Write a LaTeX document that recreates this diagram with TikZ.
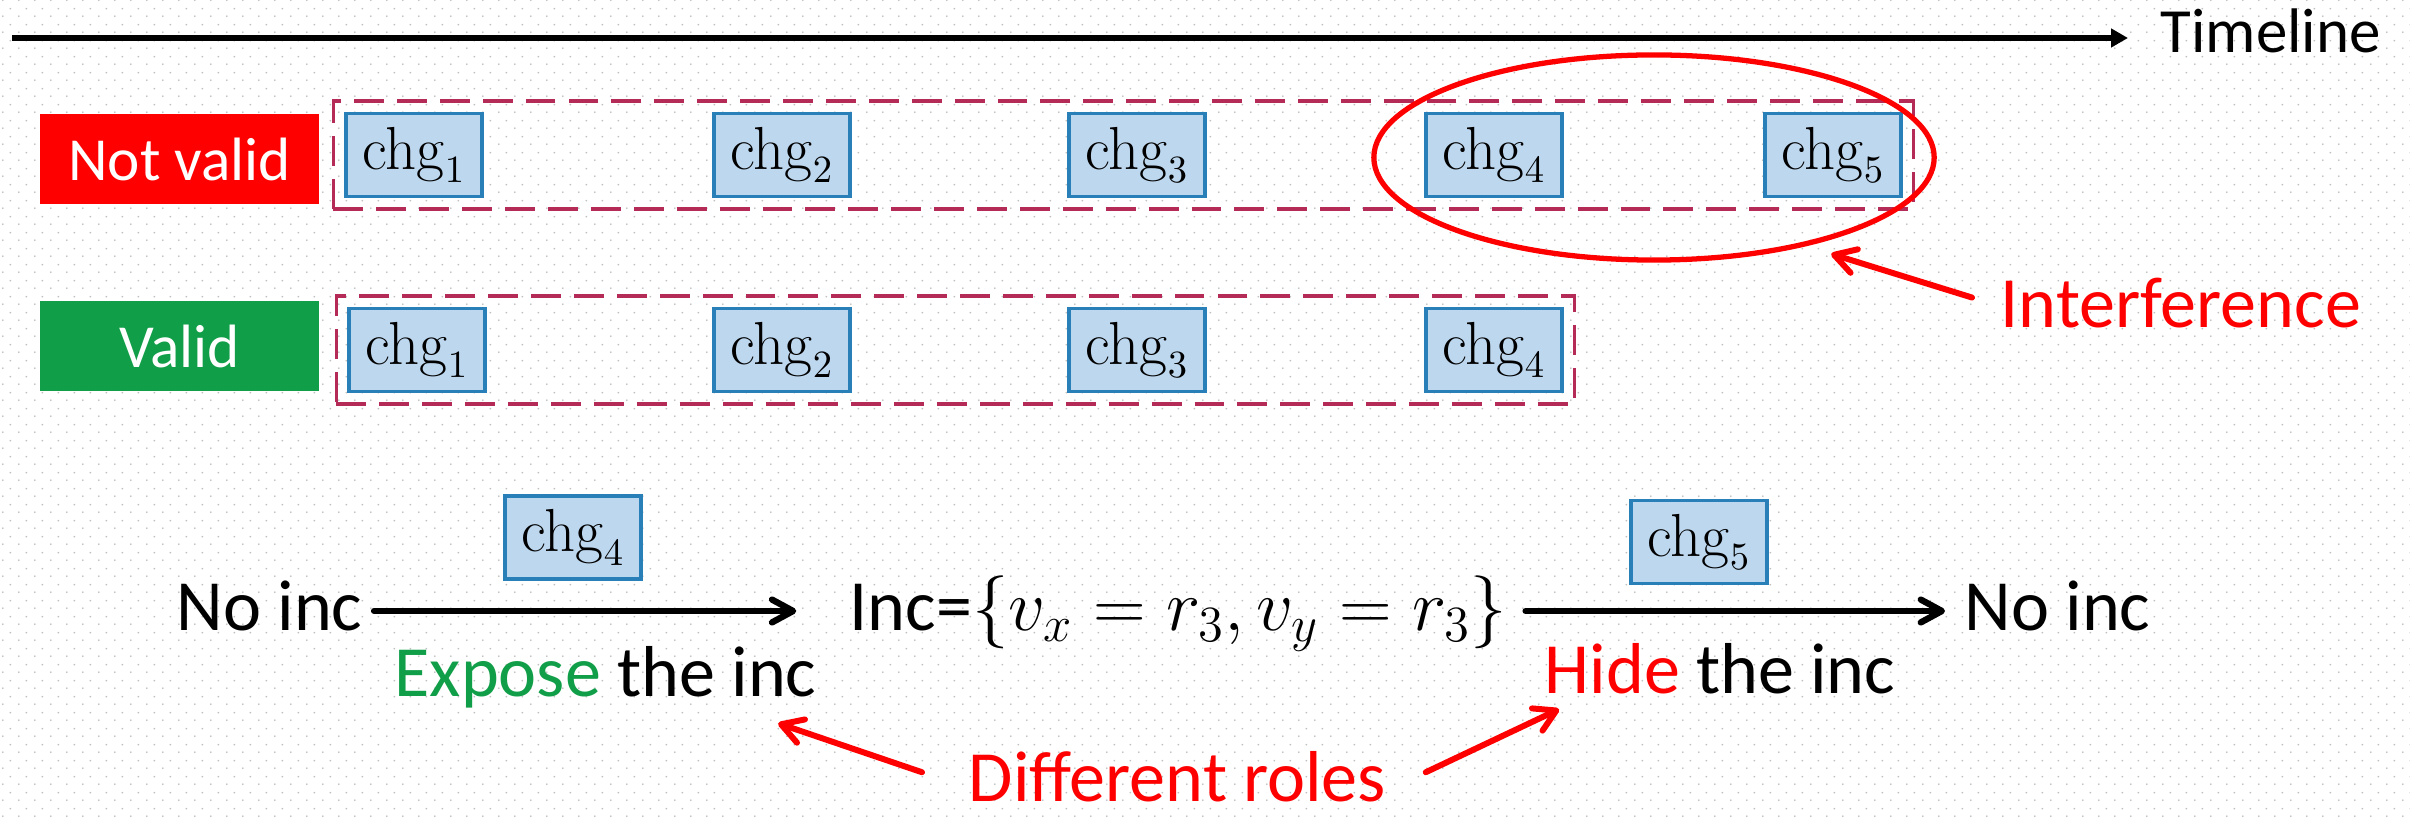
\documentclass[tikz,border=0pt]{standalone}
\usepackage[no-math]{fontspec}
\setmainfont{Carlito}
\usetikzlibrary{arrows.meta,positioning,fit,shapes.geometric,patterns}

\definecolor{notred}{RGB}{255,0,0}
\definecolor{validgreen}{RGB}{17,158,72}
\definecolor{groupred}{RGB}{181,43,87}
\definecolor{chgfill}{RGB}{189,215,238}
\definecolor{chgline}{RGB}{41,128,185}
\definecolor{dotgray}{RGB}{192,192,192}

% dotted slide background
\pgfdeclarepatternformonly{bgdots}{\pgfqpoint{0pt}{0pt}}{\pgfqpoint{4.552pt}{4.552pt}}{\pgfqpoint{4.552pt}{4.552pt}}{%
  \pgfpathcircle{\pgfqpoint{1.138pt}{1.138pt}}{0.3pt}%
  \pgfpathcircle{\pgfqpoint{3.414pt}{3.414pt}}{0.3pt}%
  \pgfusepath{fill}}

\newcommand{\bigtext}{\fontsize{20.5pt}{24pt}\selectfont}

\tikzset{
  chgbox/.style={draw=chgline, fill=chgfill, line width=0.9pt, minimum width=1.36cm,
    minimum height=0.83cm, inner sep=0, font=\fontsize{15.9pt}{19pt}\selectfont},
  groupbox/.style={draw=groupred, line width=0.95pt, dash pattern=on 8.5pt off 3.7pt, inner sep=3.1pt},
  tagbox/.style={text=white, minimum width=2.79cm, minimum height=0.9cm, inner sep=0,
    font=\fontsize{17.4pt}{21pt}\selectfont},
  statetext/.style={anchor=west, inner sep=0, text height=11pt, text depth=0pt, font=\bigtext},
  plaintext/.style={anchor=base west, inner sep=0, font=\bigtext},
  flowarrow/.style={-{Straight Barb[length=6pt,width=6.5pt,round]}, line width=1.8pt, line cap=round},
  notearrow/.style={-{Straight Barb[length=6pt,width=7pt,round]}, line width=1.7pt, red, line cap=round},
}

\begin{document}
\begin{tikzpicture}[x=0.01cm,y=-0.01cm]
  \useasboundingbox (0,0) rectangle (2410,819);
  \fill[white] (0,0) rectangle (2410,819);
  \fill[pattern=bgdots, pattern color=dotgray] (0,0) rectangle (2410,819);

  % timeline
  \coordinate (tlstart) at (12,38);
  \coordinate (tlend) at (2128,38);
  \draw[line width=1.7pt, -{Triangle[length=4.8pt,width=5.1pt]}] (tlstart) -- (tlend);
  \node[plaintext, font=\fontsize{17.9pt}{21pt}\selectfont] (timeline) at (2160,53) {Timeline};

  % tags
  \node[tagbox, fill=notred] (notvalid) at (179.5,159) {Not valid};
  \node[tagbox, fill=validgreen] (valid) at (179.5,346) {Valid};

  % change sequences
  \foreach \i/\x in {1/414,2/782,3/1137,4/1494,5/1833}
    \node[chgbox] (top\i) at (\x,155) {$\mathrm{chg}_{\i}$};
  \foreach \i/\x in {1/417,2/782,3/1137,4/1494}
    \node[chgbox] (bot\i) at (\x,350) {$\mathrm{chg}_{\i}$};
  \node[groupbox, fit=(top1)(top5)] (topgroup) {};
  \node[groupbox, fit=(bot1)(bot4)] (botgroup) {};

  % interference
  \node[ellipse, draw=red, line width=1.5pt, minimum width=5.6cm, minimum height=2.05cm, inner sep=0] (ring) at (1654,157.5) {};
  \node[plaintext, text=red] (interf) at (2000,328) {Interference};
  \draw[notearrow] ([shift={(-28,-6)}]interf.west) -- ([shift={(24,8)}]ring.-30);

  % states
  \node[statetext] (noinc) at (176,611) {No inc};
  \node[statetext] (inc) at (849,611) {Inc=$\{v_x=r_3,v_y=r_3\}$};
  \node[statetext] (noincend) at (1964,611) {No inc};
  \draw[flowarrow, shorten <=3.1pt, shorten >=15pt] (noinc) -- (inc);
  \draw[flowarrow, shorten <=5pt, shorten >=5.4pt] (inc) -- (noincend);
  \node[chgbox] (flow4) at (573,537.5) {$\mathrm{chg}_4$};
  \node[chgbox] (flow5) at (1699,542) {$\mathrm{chg}_5$};
  \node[plaintext] (expose) at (394,696) {\textcolor{validgreen}{Expose} the inc};
  \node[plaintext] (hide) at (1544,693) {\textcolor{red}{Hide} the inc};

  % roles
  \node[plaintext, text=red] (roles) at (968,801) {Different roles};
  \draw[notearrow] ([shift={(-46,22)}]roles.north west) -- ([shift={(-39,15)}]expose.south east);
  \draw[notearrow] ([shift={(39,22)}]roles.north east) -- ([shift={(15,15)}]hide.south west);
\end{tikzpicture}
\end{document}
